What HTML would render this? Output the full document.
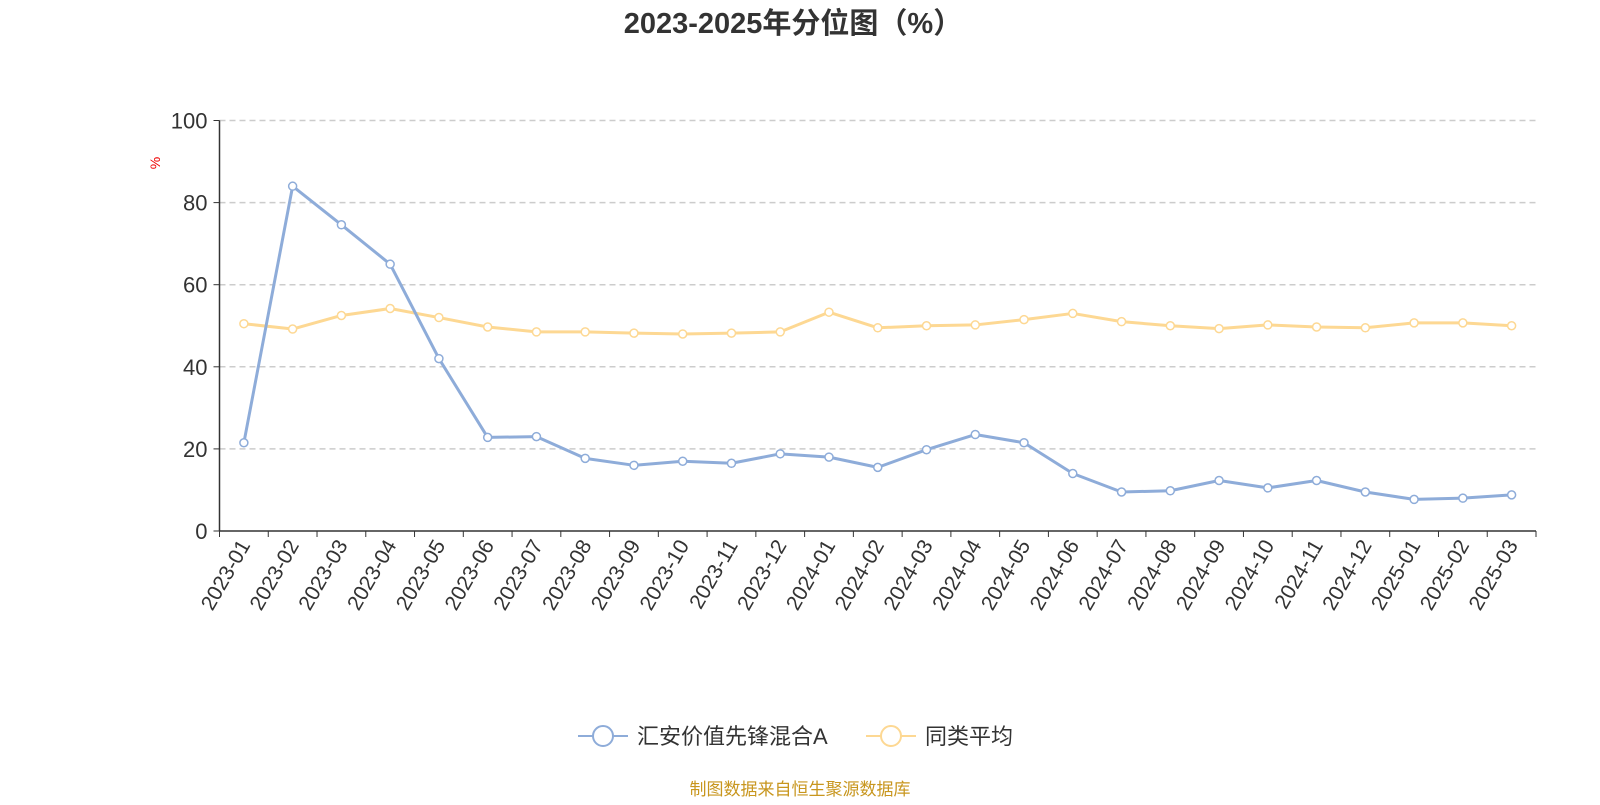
<!DOCTYPE html>
<html><head><meta charset="utf-8"><style>
body{margin:0;background:#fff;}
svg text{font-family:"Liberation Sans","Noto Sans CJK SC",sans-serif;}
</style></head><body>
<svg id="chart" width="1600" height="800" xmlns="http://www.w3.org/2000/svg">
<text x="793" y="33" text-anchor="middle" font-size="29" font-weight="bold" fill="#333">2023-2025年分位图（%）</text>
<text x="160" y="163" font-size="14" fill="#e00" transform="rotate(-90 160 163)" text-anchor="middle">%</text>
<g id="grid"></g><g id="axes"></g><g id="series"></g>
<g>
<g>
<line x1="578" y1="736" x2="628" y2="736" stroke="#8eacd9" stroke-width="2"/>
<circle cx="603" cy="736" r="10" fill="#fff" stroke="#8eacd9" stroke-width="2"/>
<text x="637" y="744" font-size="22" fill="#333">汇安价值先锋混合A</text></g>
<g>
<line x1="866" y1="736" x2="916" y2="736" stroke="#fdd893" stroke-width="2"/>
<circle cx="891" cy="736" r="10" fill="#fff" stroke="#fdd893" stroke-width="2"/>
<text x="925" y="744" font-size="22" fill="#333">同类平均</text></g>
</g>
<text x="800" y="795" text-anchor="middle" font-size="17" fill="#c8961e">制图数据来自恒生聚源数据库</text>
</svg>
<script>
const categories=["2023-01","2023-02","2023-03","2023-04","2023-05","2023-06","2023-07","2023-08","2023-09","2023-10","2023-11","2023-12","2024-01","2024-02","2024-03","2024-04","2024-05","2024-06","2024-07","2024-08","2024-09","2024-10","2024-11","2024-12","2025-01","2025-02","2025-03"];
const fundValues=[21.5,84,74.6,65,42,22.8,23,17.7,16,17,16.5,18.8,18,15.5,19.8,23.5,21.5,14,9.5,9.8,12.3,10.5,12.3,9.5,7.7,8,8.8];
const avgValues=[50.5,49.2,52.5,54.2,52,49.7,48.5,48.5,48.2,48,48.2,48.5,53.3,49.5,50,50.2,51.5,53,51,50,49.3,50.2,49.7,49.5,50.7,50.7,50];
const yTicks=[0,20,40,60,80,100];
const NS="http://www.w3.org/2000/svg";
const x0=219.5,x1=1536,y0=531,y1=120.5;
const bw=(x1-x0)/categories.length;
const xs=i=>x0+bw*(i+0.5);
const ys=v=>y0-(v/100)*(y0-y1);
function mk(t,a,p){const e=document.createElementNS(NS,t);for(const k in a)e.setAttribute(k,a[k]);p.appendChild(e);return e;}
const grid=document.getElementById('grid'),axes=document.getElementById('axes'),ser=document.getElementById('series');
yTicks.forEach(v=>{
  if(v>0){const l=mk('line',{x1:x0,x2:x1,y1:ys(v),y2:ys(v),stroke:'#ccc','stroke-dasharray':'6,4','stroke-width':1.5},grid);
  
  }
  const t=mk('text',{x:x0-12,y:ys(v)+8,'text-anchor':'end','font-size':22,fill:'#333'},axes);
  t.textContent=v;
  
  
  mk('line',{x1:x0-6,x2:x0,y1:ys(v),y2:ys(v),stroke:'#333'},axes);
});
const ya=mk('line',{x1:x0,x2:x0,y1:y1,y2:y0,stroke:'#333','stroke-width':1.5},axes);


const xa=mk('line',{x1:x0,x2:x1,y1:y0,y2:y0,stroke:'#333','stroke-width':1.5},axes);


for(let i=0;i<=categories.length;i++)mk('line',{x1:x0+bw*i,x2:x0+bw*i,y1:y0,y2:y0+6,stroke:'#333'},axes);
categories.forEach((c,i)=>{
  const x=xs(i)+7,y=y0+14;
  const t=mk('text',{x:x,y:y,'text-anchor':'end','font-size':21,fill:'#333',transform:`rotate(-60 ${x} ${y})`},axes);
  t.textContent=c;
  
  
});
function series(vals,color,name){
  const g=mk('g',{},ser);
  
  
  const p=mk('polyline',{points:vals.map((v,i)=>xs(i)+','+ys(v)).join(' '),fill:'none',stroke:color,'stroke-width':3,'stroke-linejoin':'round'},g);
  
  
  vals.forEach((v,i)=>{const c=mk('circle',{cx:xs(i),cy:ys(v),r:4,fill:'#fff',stroke:color,'stroke-width':1.5},g);
    
    });
}
series(avgValues,'#fdd893','average-series');
series(fundValues,'#8eacd9','fund-series');
</script>
</body></html>
